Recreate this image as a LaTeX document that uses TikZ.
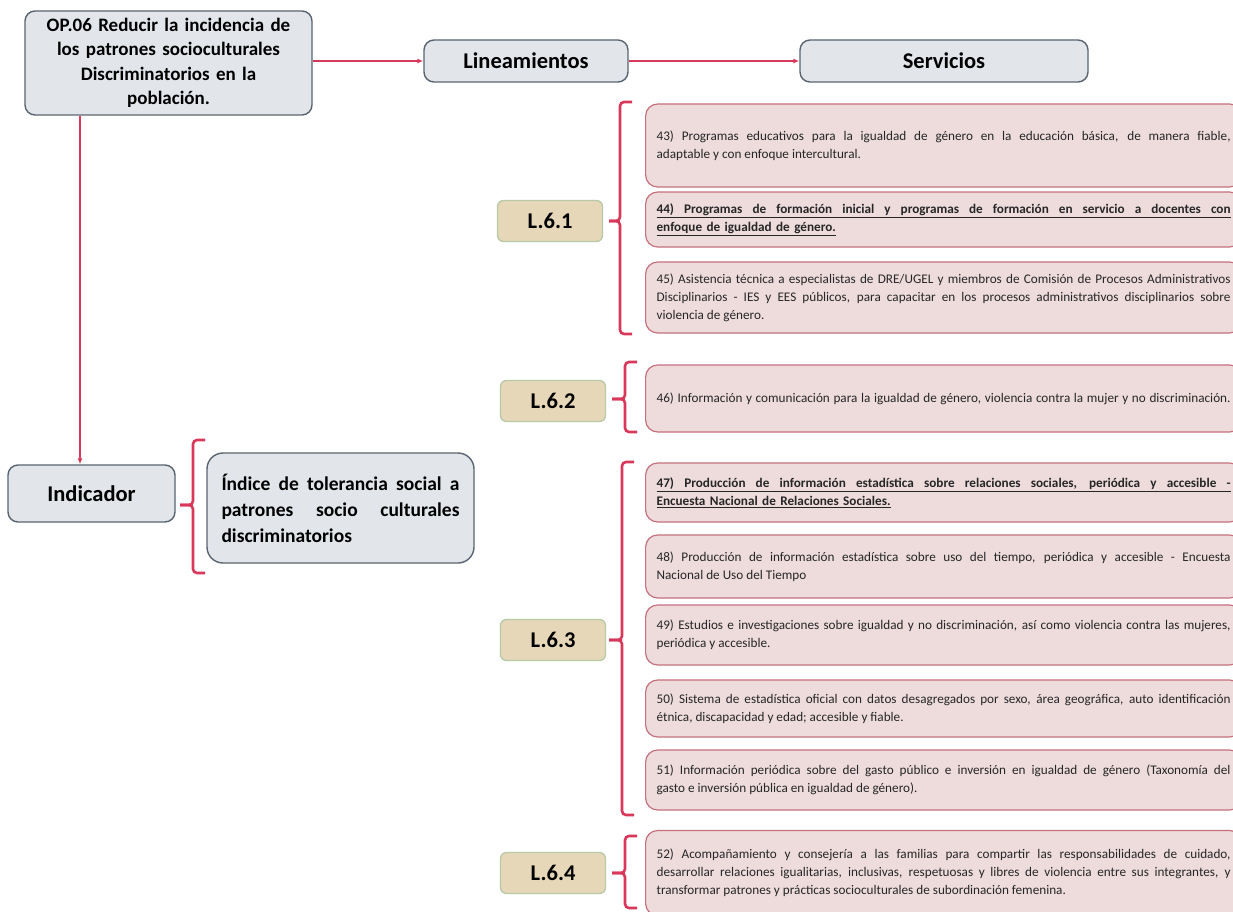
\documentclass[tikz,border=0pt]{standalone}
\usepackage{fontspec}
\setmainfont{Carlito}
\usetikzlibrary{arrows.meta}
\definecolor{redline}{HTML}{D8385A}
\definecolor{grayfill}{HTML}{E2E5EA}
\definecolor{graydraw}{HTML}{5A6470}
\definecolor{tanfill}{HTML}{E6D7B9}
\definecolor{tandraw}{HTML}{B7C9A5}
\definecolor{pinkfill}{HTML}{EEDCDD}
\definecolor{pinkdraw}{HTML}{C6707D}
\tikzset{
  graybox/.style={draw=graydraw, fill=grayfill, line width=1.4pt, rounded corners=10pt},
  headtxt/.style={font=\fontsize{22.5}{27}\selectfont\bfseries},
  lbox/.style={draw=tandraw, fill=tanfill, line width=1.3pt, rounded corners=6pt,
    minimum width=105pt, minimum height=41pt, font=\fontsize{22.5}{27}\selectfont\bfseries},
  sbox/.style={draw=pinkdraw, fill=pinkfill, line width=1.2pt, rounded corners=12pt,
    anchor=west, text width=574pt, inner xsep=11pt, minimum width=596pt, align=justify,
    font=\fontsize{13.2}{18}\selectfont, text=black!85},
  arr/.style={draw=redline, line width=1.1pt, -{Latex[length=6pt,width=5pt]}},
  brk/.style={draw=redline, line width=2.6pt, rounded corners=4pt}
}
\newcommand{\mybrace}[5]{% x, top, bottom, tipy, tipx
  \draw[brk] (#1+12,#2) -- (#1,#2) -- (#1,#4) -- (#5,#4);
  \draw[brk] (#5,#4) -- (#1,#4) -- (#1,#3) -- (#1+12,#3);
}
\newcommand{\fullline}[1]{\hbox to 574pt{\spaceskip=.2em plus 1fil\relax #1}}
\newcommand{\fullul}[1]{\underline{\fullline{#1}}}
\begin{document}
\begin{tikzpicture}[x=1pt,y=-1pt]
\clip (0,0) rectangle (1233,912);
\fill[white] (0,0) rectangle (1233,912);

% top boxes
\node[graybox, minimum width=287pt, minimum height=104pt, text width=280pt, align=center,
  font=\fontsize{19}{24.5}\selectfont\bfseries] (op) at (168.5,63)
  {OP.06 Reducir la incidencia de\\ los patrones socioculturales\\ Discriminatorios en la\\ población.};
\node[graybox, headtxt, minimum width=204pt, minimum height=42pt] (lin) at (526,61) {Lineamientos};
\node[graybox, headtxt, minimum width=288pt, minimum height=42pt] (serv) at (944,61) {Servicios};

\draw[arr] (op.east |- lin.west) -- (lin.west);
\draw[arr] (lin.east) -- (serv.west);

% indicator
\node[graybox, headtxt, minimum width=167pt, minimum height=57pt] (ind) at (91.5,493.5) {Indicador};
\coordinate (vx) at (80,0);
\draw[arr] (op.south -| vx) -- (ind.north -| vx);
\node[graybox, minimum width=267pt, minimum height=110pt, text width=238pt, align=justify,
  rounded corners=16pt, font=\fontsize{19.5}{26}\selectfont\bfseries] (idx) at (340.5,508)
  {Índice de tolerancia social a\linebreak patrones socio culturales\linebreak discriminatorios};
\mybrace{193}{440}{573}{505}{180}

% lineamientos
\node[lbox] (l1) at (550,221) {L.6.1};
\node[lbox] (l2) at (553,401) {L.6.2};
\node[lbox] (l3) at (553,640) {L.6.3};
\node[lbox] (l4) at (553,873) {L.6.4};

\mybrace{620}{102}{334}{221}{609}
\mybrace{625}{362}{432}{399}{612}
\mybrace{622}{462}{815}{640}{609}
\mybrace{625}{836}{908}{873}{612}

% servicios
\node[sbox, minimum height=83pt] (s43) at (645,145.5)
  {43) Programas educativos para la igualdad de género en la educación básica, de manera fiable,\linebreak adaptable y con enfoque intercultural.};
\node[sbox, minimum height=55pt, align=left, font=\fontsize{13.2}{18}\selectfont\bfseries] (s44) at (645,219.5)
  {\fullul{44) Programas de formación inicial y programas de formación en servicio a docentes con}\\ \underline{enfoque de igualdad de género.}};
\node[sbox, minimum height=71pt] (s45) at (645,297.5)
  {45) Asistencia técnica a especialistas de DRE/UGEL y miembros de Comisión de Procesos Administrativos\linebreak Disciplinarios - IES y EES públicos, para capacitar en los procesos administrativos disciplinarios sobre\linebreak violencia de género.};
\node[sbox, minimum height=67pt, align=left] (s46) at (645,398.5)
  {\fullline{46) Información y comunicación para la igualdad de género, violencia contra la mujer y no discriminación.}};
\node[sbox, minimum height=59pt, align=left, font=\fontsize{13.2}{18}\selectfont\bfseries] (s47) at (645,492.5)
  {\fullul{47) Producción de información estadística sobre relaciones sociales, periódica y accesible -}\\ \underline{Encuesta Nacional de Relaciones Sociales.}};
\node[sbox, minimum height=63pt] (s48) at (645,566.5)
  {48) Producción de información estadística sobre uso del tiempo, periódica y accesible - Encuesta\linebreak Nacional de Uso del Tiempo};
\node[sbox, minimum height=60pt] (s49) at (645,635)
  {49) Estudios e investigaciones sobre igualdad y no discriminación, así como violencia contra las mujeres,\linebreak periódica y accesible.};
\node[sbox, minimum height=57pt] (s50) at (645,708.5)
  {50) Sistema de estadística oficial con datos desagregados por sexo, área geográfica, auto identificación\linebreak étnica, discapacidad y edad; accesible y fiable.};
\node[sbox, minimum height=60pt] (s51) at (645,780)
  {51) Información periódica sobre del gasto público e inversión en igualdad de género (Taxonomía del\linebreak gasto e inversión pública en igualdad de género).};
\node[sbox, minimum height=85pt] (s52) at (645,873)
  {52) Acompañamiento y consejería a las familias para compartir las responsabilidades de cuidado,\linebreak desarrollar relaciones igualitarias, inclusivas, respetuosas y libres de violencia entre sus integrantes, y\linebreak transformar patrones y prácticas socioculturales de subordinación femenina.};
\end{tikzpicture}
\end{document}
